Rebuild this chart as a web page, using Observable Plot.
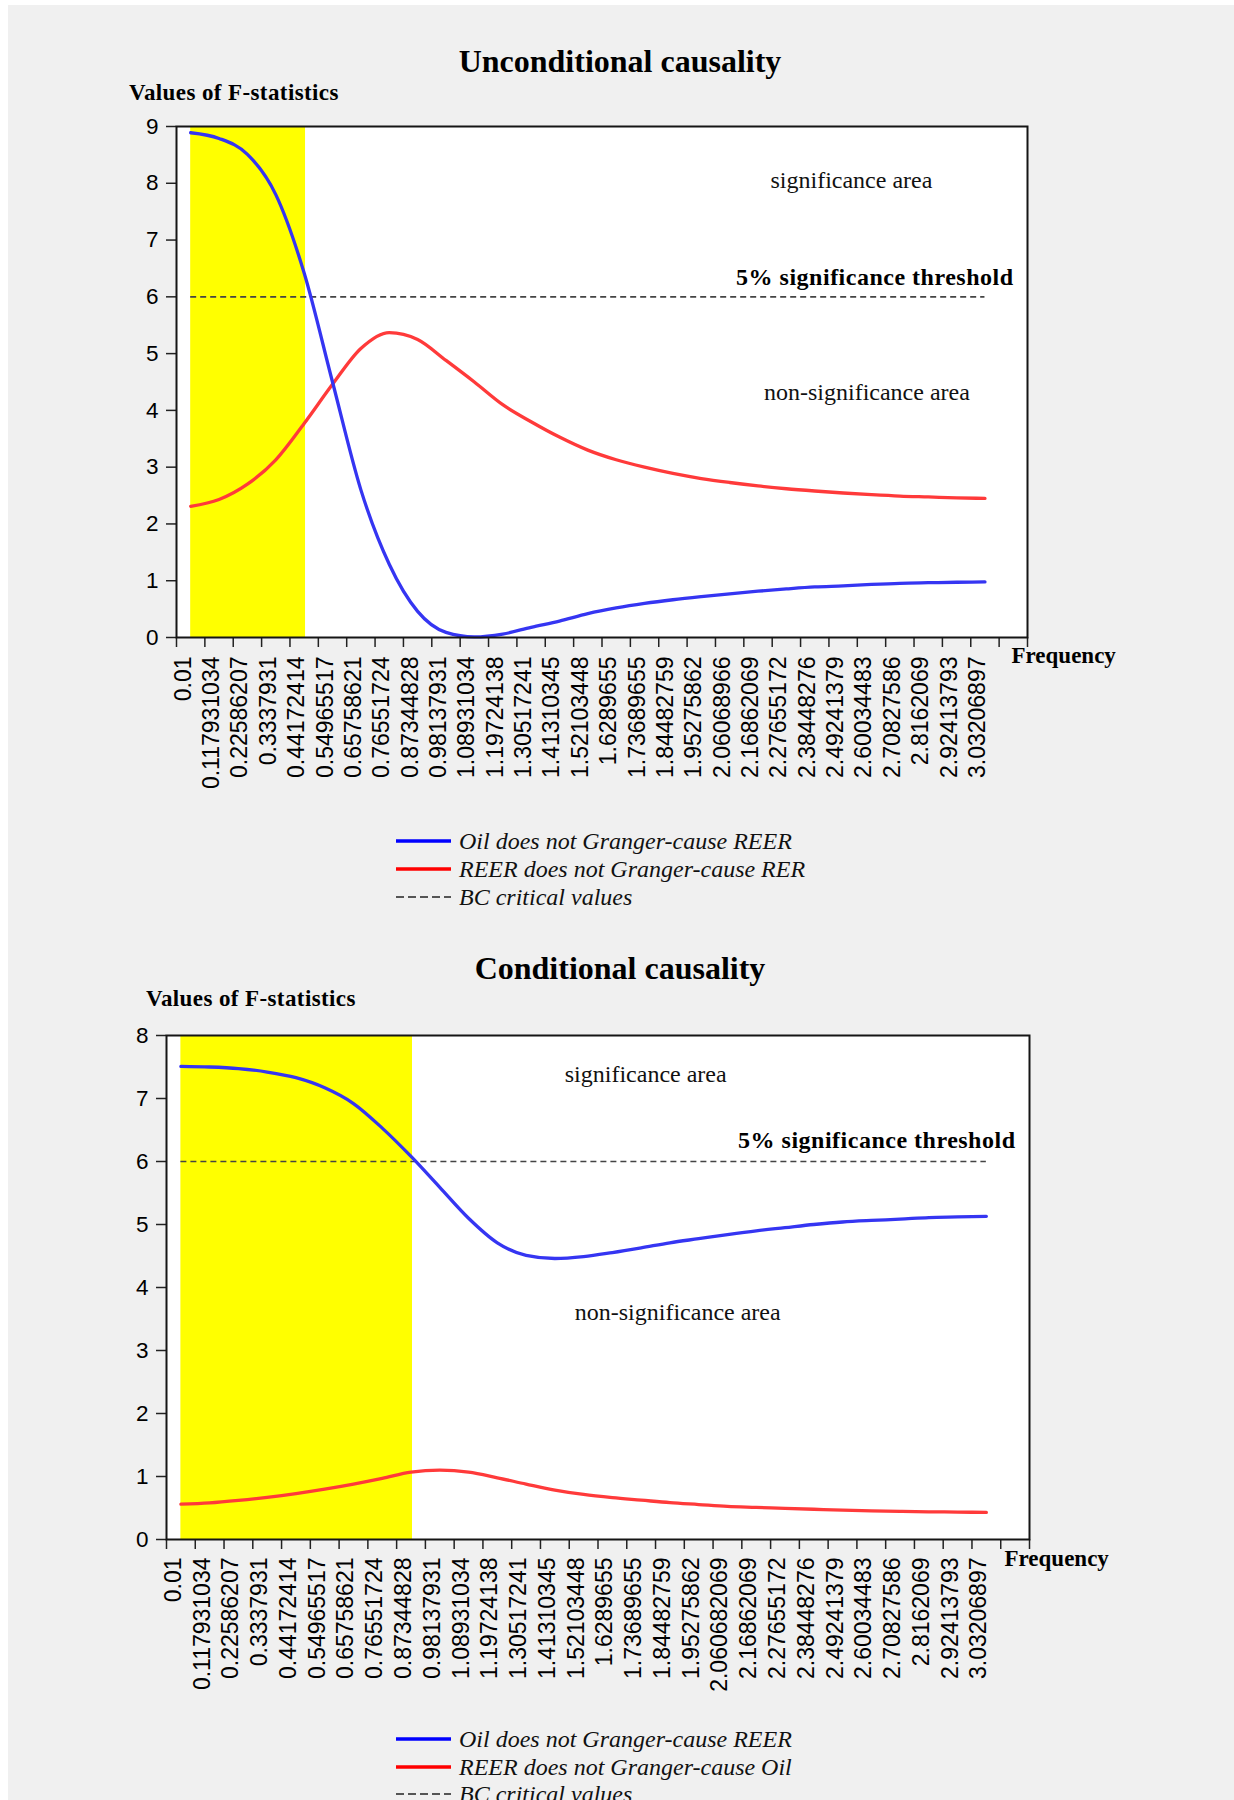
<!DOCTYPE html>
<html>
<head>
<meta charset="utf-8">
<script src="https://cdn.jsdelivr.net/npm/d3@7"></script>
<script src="https://cdn.jsdelivr.net/npm/@observablehq/plot@0.6"></script>
<style>
  html, body { margin: 0; padding: 0; background: #ffffff; }
  #page { position: relative; width: 1234px; height: 1800px; overflow: hidden; }
  #bg { position: absolute; left: 8px; top: 5px; right: 0; bottom: 0; background: #f0f0f0; }
  .abs { position: absolute; white-space: nowrap; line-height: 1; }
  .title { font-family: "Liberation Serif", serif; font-weight: bold; font-size: 32px; color: #000; transform: translateX(-50%); }
  .ylab { font-family: "Liberation Serif", serif; font-weight: bold; font-size: 23px; letter-spacing: 0.4px; color: #000; }
  .leg { font-family: "Liberation Serif", serif; font-style: italic; font-size: 24px; color: #111; }
  .plotbox { position: absolute; left: 0; }
  .plotbox svg { overflow: visible; }
</style>
</head>
<body>
<div id="page">
  <div id="bg"></div>
  <div class="abs title" style="left:620px; top:45px;">Unconditional causality</div>
  <div class="abs ylab" style="left:129px; top:81px;">Values of F-statistics</div>
  <div class="plotbox" id="chart1" style="top:100px;"></div>
  <div id="legend1"></div>

  <div class="abs title" style="left:620px; top:952px;">Conditional causality</div>
  <div class="abs ylab" style="left:146px; top:987px;">Values of F-statistics</div>
  <div class="plotbox" id="chart2" style="top:1000px;"></div>
  <div id="legend2"></div>
</div>
<script>
// ---------------- data ----------------
const freqLabels1 = ["0.01","0.117931034","0.22586207","0.3337931","0.44172414","0.54965517","0.65758621","0.76551724","0.87344828","0.98137931","1.08931034","1.19724138","1.30517241","1.41310345","1.52103448","1.6289655","1.73689655","1.84482759","1.95275862","2.06068966","2.16862069","2.27655172","2.38448276","2.49241379","2.60034483","2.70827586","2.8162069","2.92413793","3.03206897"];
const freqLabels2 = ["0.01","0.117931034","0.22586207","0.3337931","0.44172414","0.54965517","0.65758621","0.76551724","0.87344828","0.98137931","1.08931034","1.19724138","1.30517241","1.41310345","1.52103448","1.6289655","1.73689655","1.84482759","1.95275862","2.060682069","2.16862069","2.27655172","2.38448276","2.49241379","2.60034483","2.70827586","2.8162069","2.92413793","3.03206897"];

// Unconditional causality
const oilToReer1 = [8.89, 8.79, 8.51, 7.80, 6.42, 4.50, 2.60, 1.29, 0.46, 0.09, 0.01, 0.06, 0.18, 0.29, 0.42, 0.52, 0.60, 0.665, 0.72, 0.77, 0.815, 0.855, 0.89, 0.91, 0.935, 0.955, 0.965, 0.973, 0.98];
const reerToRer1 = [2.31, 2.43, 2.70, 3.13, 3.77, 4.46, 5.09, 5.37, 5.25, 4.88, 4.50, 4.10, 3.80, 3.53, 3.30, 3.13, 3.00, 2.89, 2.80, 2.73, 2.67, 2.62, 2.58, 2.545, 2.515, 2.49, 2.475, 2.46, 2.45];
const sigBand1 = [0.01, 0.447];

// Conditional causality
const oilToReer2 = [7.51, 7.50, 7.475, 7.42, 7.33, 7.17, 6.92, 6.53, 6.08, 5.59, 5.10, 4.71, 4.51, 4.46, 4.49, 4.555, 4.63, 4.71, 4.775, 4.84, 4.90, 4.95, 5.00, 5.04, 5.065, 5.085, 5.11, 5.12, 5.13];
const reerToOil2 = [0.56, 0.58, 0.62, 0.67, 0.73, 0.80, 0.88, 0.97, 1.07, 1.10, 1.07, 0.98, 0.88, 0.785, 0.715, 0.665, 0.625, 0.585, 0.555, 0.525, 0.51, 0.495, 0.48, 0.465, 0.455, 0.447, 0.44, 0.435, 0.43];
const sigBand2 = [0.01, 0.879];

const bcCritical = 6;
const yTicks1 = [0,1,2,3,4,5,6,7,8,9];
const yTicks2 = [0,1,2,3,4,5,6,7,8];

const legend1 = ["Oil does not Granger-cause REER", "REER does not Granger-cause RER", "BC critical values"];
const legend2 = ["Oil does not Granger-cause REER", "REER does not Granger-cause Oil", "BC critical values"];
const annot = { sig: "significance area", thr: "5% significance threshold", non: "non-significance area" };

// ---------------- drawing ----------------
const BLUE = "#3535f2", RED = "#ff3a3a";
const serif = "Liberation Serif", sans = "Liberation Sans";

function makeChart(o) {
  const freq = o.labels.map(Number);
  const n = freq.length;
  const step = (freq[n - 1] - freq[0]) / (n - 1);
  const lo = freq[0] - step / 2, hi = freq[0] + (n + 0.5) * step;
  const bounds = d3.range(n + 2).map(k => lo + k * step);
  const rows = freq.map((f, i) => ({f, blue: o.blue[i], red: o.red[i]}));
  const yMax = d3.max(o.yTicks);
  return Plot.plot({
    width: 1234, height: 700,
    marginLeft: o.mL, marginRight: o.mR, marginTop: o.mT, marginBottom: o.mB,
    style: {background: "transparent", fontFamily: sans, fontSize: "23px", color: "#000"},
    x: {domain: [lo, hi]},
    y: {domain: [0, yMax]},
    marks: [
      Plot.frame({fill: "white", stroke: null}),
      Plot.rect([0], {x1: o.band[0], x2: o.band[1], y1: 0, y2: yMax, fill: "#ffff00"}),
      Plot.ruleY([bcCritical], {x1: freq[0], x2: freq[n - 1], stroke: "#444", strokeWidth: 1.6, strokeDasharray: "6,4"}),
      Plot.line(rows, {x: "f", y: "red", stroke: RED, strokeWidth: 3.3, curve: "monotone-x"}),
      Plot.line(rows, {x: "f", y: "blue", stroke: BLUE, strokeWidth: 3.3, curve: "monotone-x"}),
      Plot.text([annot.sig], {x: o.aSig[0], y: o.aSig[1], text: d => d, fontFamily: serif, fontSize: 24, fill: "#111", textAnchor: "middle", style: "letter-spacing:0.3px"}),
      Plot.text([annot.thr], {x: o.aThr[0], y: o.aThr[1], text: d => d, fontFamily: serif, fontWeight: "bold", fontSize: 24, fill: "#000", textAnchor: "middle"}),
      Plot.text([annot.non], {x: o.aNon[0], y: o.aNon[1], text: d => d, fontFamily: serif, fontSize: 24, fill: "#111", textAnchor: "middle"}),
      Plot.axisY({ticks: o.yTicks, tickSize: 10, tickPadding: 8, fontSize: 22.5, label: null, stroke: "#222", strokeWidth: 1.5, fill: "#000"}),
      Plot.axisX({ticks: bounds, tickSize: 10, tickFormat: () => "", label: null, stroke: "#222", strokeWidth: 1.5}),
      Plot.text(freq, {x: d => d, text: (d, i) => o.labels[i], frameAnchor: "bottom", dy: o.labDy, rotate: -90, textAnchor: "end", fontFamily: sans, fontSize: 23, fill: "#000"}),
      Plot.text(["Frequency"], {frameAnchor: "bottom-right", dx: o.fDx, dy: o.fDy, text: d => d, textAnchor: "start", fontFamily: serif, fontWeight: "bold", fontSize: 23, fill: "#000"}),
      Plot.frame({stroke: "#151515", strokeWidth: 2})
    ]
  });
}

const c1 = makeChart({
  labels: freqLabels1, blue: oilToReer1, red: reerToRer1, band: sigBand1, yTicks: yTicks1,
  mL: 176, mR: 207, mT: 26, mB: 163, labDy: 19, fDx: -16, fDy: 25,
  aSig: [2.524, 8.06], aThr: [2.613, 6.35], aNon: [2.583, 4.32]
});
document.getElementById("chart1").append(c1);
const c2 = makeChart({
  labels: freqLabels2, blue: oilToReer2, red: reerToOil2, band: sigBand2, yTicks: yTicks2,
  mL: 166, mR: 205, mT: 35, mB: 161, labDy: 18, fDx: -25, fDy: 26,
  aSig: [1.754, 7.38], aThr: [2.621, 6.34], aNon: [1.874, 3.61]
});
document.getElementById("chart2").append(c2);
// slightly widen the bold threshold label as in the reference
document.querySelectorAll("svg text").forEach(t => {
  if (t.textContent === annot.thr) t.setAttribute("letter-spacing", "0.5");
});

function makeLegend(el, items, ys) {
  const styles = [{c: "#0000ff", w: 3.5, d: null}, {c: "#ff0000", w: 3.5, d: null}, {c: "#222", w: 1.6, d: "8,4"}];
  items.forEach((t, i) => {
    const s = styles[i];
    const sw = document.createElementNS("http://www.w3.org/2000/svg", "svg");
    sw.setAttribute("width", 56); sw.setAttribute("height", 10);
    sw.style.position = "absolute"; sw.style.left = "396px"; sw.style.top = (ys[i] - 5) + "px";
    const ln = document.createElementNS("http://www.w3.org/2000/svg", "line");
    ln.setAttribute("x1", 0); ln.setAttribute("x2", 55); ln.setAttribute("y1", 5); ln.setAttribute("y2", 5);
    ln.setAttribute("stroke", s.c); ln.setAttribute("stroke-width", s.w);
    if (s.d) ln.setAttribute("stroke-dasharray", s.d);
    sw.append(ln);
    el.append(sw);
    const tx = document.createElement("div");
    tx.className = "abs leg";
    tx.style.left = "459px"; tx.style.top = (ys[i] - 12) + "px";
    tx.textContent = t;
    el.append(tx);
  });
}
makeLegend(document.getElementById("legend1"), legend1, [841, 869, 897]);
makeLegend(document.getElementById("legend2"), legend2, [1739, 1767, 1794]);
</script>
</body>
</html>
